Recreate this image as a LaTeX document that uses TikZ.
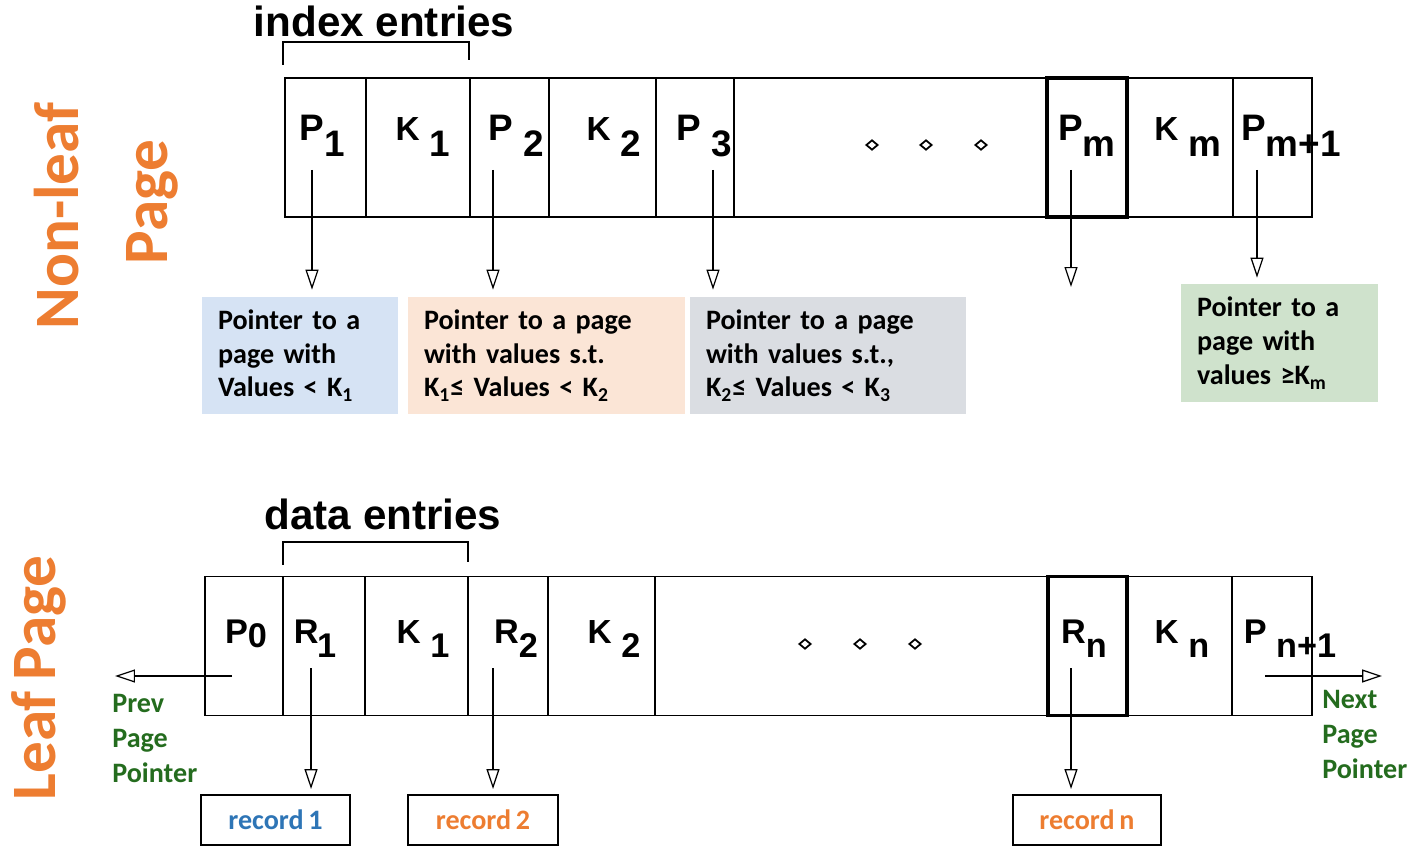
\documentclass[tikz,border=0pt]{standalone}
\usepackage{fontspec}
\setmainfont{Liberation Sans}
\newfontfamily\calfont{Carlito}[WordSpace=0.75]
\usetikzlibrary{arrows.meta,shapes.geometric}

\definecolor{orng}{RGB}{237,125,49}
\definecolor{dgreen}{RGB}{36,108,30}
\definecolor{rblue}{RGB}{46,117,182}
\definecolor{fblue}{RGB}{214,227,244}
\definecolor{fpeach}{RGB}{251,229,214}
\definecolor{fgray}{RGB}{218,221,226}
\definecolor{fgreen}{RGB}{207,226,204}

\newcommand\lo[1]{\raisebox{-0.42em}{#1}}
\newcommand\keyK{{\fontsize{19}{22}\selectfont K}}

\begin{document}
\begin{tikzpicture}[x=0.02cm, y=-0.02cm,
  cell/.style={draw, line width=1.1pt, inner sep=0pt, minimum height=2.78cm},
  thickcell/.style={cell, line width=1.9pt},
  lab/.style={anchor=base, inner sep=0pt, font=\bfseries\fontsize{21}{24}\selectfont},
  leaflab/.style={lab, font=\bfseries\fontsize{19.5}{24}\selectfont},
  hdr/.style={anchor=base, inner sep=0pt, font=\bfseries\fontsize{24}{28}\selectfont},
  side/.style={rotate=90, anchor=base, inner sep=0pt, text=orng, font=\calfont\bfseries\fontsize{36}{40}\selectfont},
  dot/.style={diamond, draw, line width=1pt, inner sep=0pt, minimum width=0.24cm, minimum height=0.2cm},
  ptr/.style={line width=0.9pt, -{Triangle[open, length=0.4cm, width=0.26cm, line width=0.7pt]}},
  note/.style={inner xsep=0.32cm, inner ysep=0pt, align=left, font=\calfont\bfseries\fontsize{16}{19.3}\selectfont},
  rec/.style={draw, line width=1.1pt, inner sep=0pt, minimum height=1cm, font=\calfont\bfseries\fontsize{16}{19}\selectfont},
  link/.style={anchor=north west, inner sep=0pt, align=left, text=dgreen, font=\calfont\bfseries\fontsize{16}{19.8}\selectfont}]
\useasboundingbox (0,0) rectangle (1420,847);

% side labels
\node[side] (nonleaf) at (78,216) {Non-leaf};
\node[side] (pagelab) at (167,202) {Page};
\node[side] (leaf) at (55,678) {Leaf Page};

% non-leaf page
\node[hdr] (idx) at (384,37) {index entries};
\draw[line width=0.9pt] (283,65) -- (283,42) -- (469,42) -- (469,60);
\foreach \l/\r/\n in {285/366/a1, 366/470/a2, 470/549/a3, 549/656/a4, 656/734/a5, 734/1047/a6, 1127/1233/a8, 1233/1312/a9}
  \node[cell, minimum width=(\r-\l)*0.02cm] (\n) at ({(\l+\r)/2},147.5) {};
\node[thickcell, minimum width=1.6cm] (a7) at (1087,147.5) {};
\foreach \x/\t [count=\i] in {322/{P\lo{1}}, 423/{\keyK\ \lo{1}}, 516/{P \lo{2}}, 614/{\keyK\ \lo{2}}, 704/{P \lo{3}}, 1087/{P\lo{m}}, 1188/{\keyK\ \lo{m}}, 1291/{P\lo{m+1}}}
  \node[lab] (ta\i) at (\x,141) {\t};
\foreach \x [count=\i] in {872,926,981}
  \node[dot] (td\i) at (\x,145) {};

\node[note, fill=fblue, text width=3.28cm, minimum height=2.34cm] (v1) at (300,355.5)
  {Pointer to a\\page with\\Values < K\textsubscript{1}};
\node[note, fill=fpeach, text width=4.9cm, minimum height=2.34cm] (v2) at (546.5,355.5)
  {Pointer to a page\\with values s.t.\\K\textsubscript{1}≤ Values < K\textsubscript{2}};
\node[note, fill=fgray, text width=4.88cm, minimum height=2.34cm] (v3) at (828,355.5)
  {Pointer to a page\\with values s.t.,\\K\textsubscript{2}≤ Values < K\textsubscript{3}};
\node[note, fill=fgreen, text width=3.3cm, minimum height=2.36cm] (v4) at (1279.5,343)
  {Pointer to a\\page with\\values ≥K\textsubscript{m}};

\coordinate (s1) at (312,170);
\coordinate (s2) at (493,170);
\coordinate (s3) at (713,170);
\coordinate (s4) at (1071,170);
\coordinate (s5) at (1257,170);
\coordinate (e4) at (1071,287);
\draw[ptr, shorten >=0.14cm] (s1) -- (s1 |- v1.north);
\draw[ptr, shorten >=0.14cm] (s2) -- (s2 |- v2.north);
\draw[ptr, shorten >=0.14cm] (s3) -- (s3 |- v3.north);
\draw[ptr] (s4) -- (e4);
\draw[ptr, shorten >=0.12cm] (s5) -- (s5 |- v4.north);

% leaf page
\node[hdr] (dat) at (383,530) {data entries};
\draw[line width=0.9pt] (283,565) -- (283,542) -- (468,542) -- (468,562);
\foreach \l/\r/\n in {205/283/b0, 283/365/b1, 365/468/b2, 468/548/b3, 548/655/b4, 655/1048/b5, 1127/1232/b7, 1232/1312/b8}
  \node[cell, minimum width=(\r-\l)*0.02cm] (\n) at ({(\l+\r)/2},646) {};
\node[thickcell, minimum width=1.58cm] (b6) at (1087.5,646) {};
\foreach \x/\t [count=\i] in {246/{P\raisebox{-0.12em}{0}}, 315/{R\hspace{-0.04em}\lo{1}}, 423/{\keyK\ \lo{1}}, 516/{R\lo{2}}, 614/{\keyK\ \lo{2}}, 1084/{R\lo{n}}, 1182/{\keyK\ \lo{n}}, 1290/{P \lo{n+1}}}
  \node[leaflab] (tb\i) at (\x,643) {\t};
\foreach \x [count=\i] in {805,860,915}
  \node[dot] (bd\i) at (\x,644) {};

\node[rec, minimum width=2.98cm, text=rblue] (r1) at (275.5,820) {record 1};
\node[rec, minimum width=3cm, text=orng] (r2) at (483,820) {record 2};
\node[rec, minimum width=2.96cm, text=orng] (rn) at (1087,820) {record n};

\coordinate (q1) at (311,668);
\coordinate (q2) at (493,668);
\coordinate (qn) at (1071,668);
\draw[ptr, shorten >=0.1cm] (q1) -- (q1 |- r1.north);
\draw[ptr, shorten >=0.1cm] (q2) -- (q2 |- r2.north);
\draw[ptr, shorten >=0.1cm] (qn) -- (qn |- rn.north);

\coordinate (ps) at (232,676);
\coordinate (pe) at (115,676);
\coordinate (ns) at (1265,676);
\coordinate (ne) at (1382,676);
\draw[ptr] (ps) -- (pe);
\draw[ptr] (ns) -- (ne);
\node[link] (prev) at (112,694) {Prev\\Page\\Pointer};
\node[link] (next) at (1322,690) {Next\\Page\\Pointer};
\end{tikzpicture}
\end{document}
